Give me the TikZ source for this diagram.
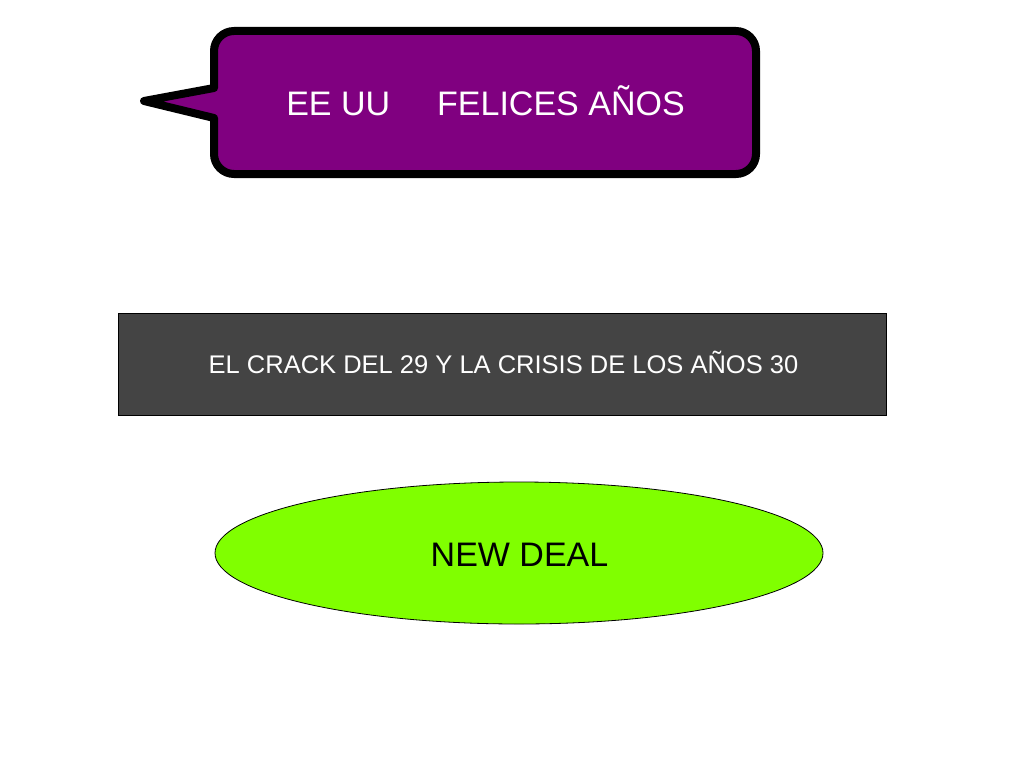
\documentclass[tikz,border=0pt]{standalone}
\usepackage{fontspec}
\setmainfont{Liberation Sans}
\usetikzlibrary{shapes.geometric}
\definecolor{calloutpurple}{HTML}{800080}
\definecolor{boxgray}{HTML}{444444}
\definecolor{dealgreen}{HTML}{80FF00}
\tikzset{
  callout/.style={draw=black, fill=calloutpurple, line width=8pt, line join=round},
  labelwhite/.style={text=white, inner sep=0pt, anchor=base},
  graybox/.style={draw=black, fill=boxgray, line width=0.8pt},
  greenellipse/.style={ellipse, draw=black, fill=dealgreen, line width=0.8pt, inner sep=0pt},
}
\begin{document}
\begin{tikzpicture}[x=1pt,y=-1pt]
\useasboundingbox (0,0) rectangle (1024,768);
% callout
\draw[callout] (214,88) -- (214,51) .. controls (214,40) and (223,31) .. (234,31)
  -- (736,31) .. controls (747,31) and (756,40) .. (756,51)
  -- (756,154) .. controls (756,165) and (747,174) .. (736,174)
  -- (234,174) .. controls (223,174) and (214,165) .. (214,154)
  -- (214,118) -- (144,101) -- cycle;
\node[labelwhite, font=\fontsize{34}{40}\selectfont] (title) at (485.5,115) {EE UU\hspace{47pt}FELICES AÑOS};
% rectangle
\node[graybox, minimum width=768pt, minimum height=102pt, inner sep=0pt] (crack) at (502,364) {};
\node[labelwhite, font=\fontsize{25.5}{30}\selectfont] (cracktext) at (503.5,373) {EL CRACK DEL 29 Y LA CRISIS DE LOS AÑOS 30};
% ellipse
\node[greenellipse, minimum width=608pt, minimum height=142pt] (deal) at (519,553) {};
\node[inner sep=0pt, anchor=base, font=\fontsize{34}{40}\selectfont] (dealtext) at (519.5,566) {NEW DEAL};
\end{tikzpicture}
\end{document}
